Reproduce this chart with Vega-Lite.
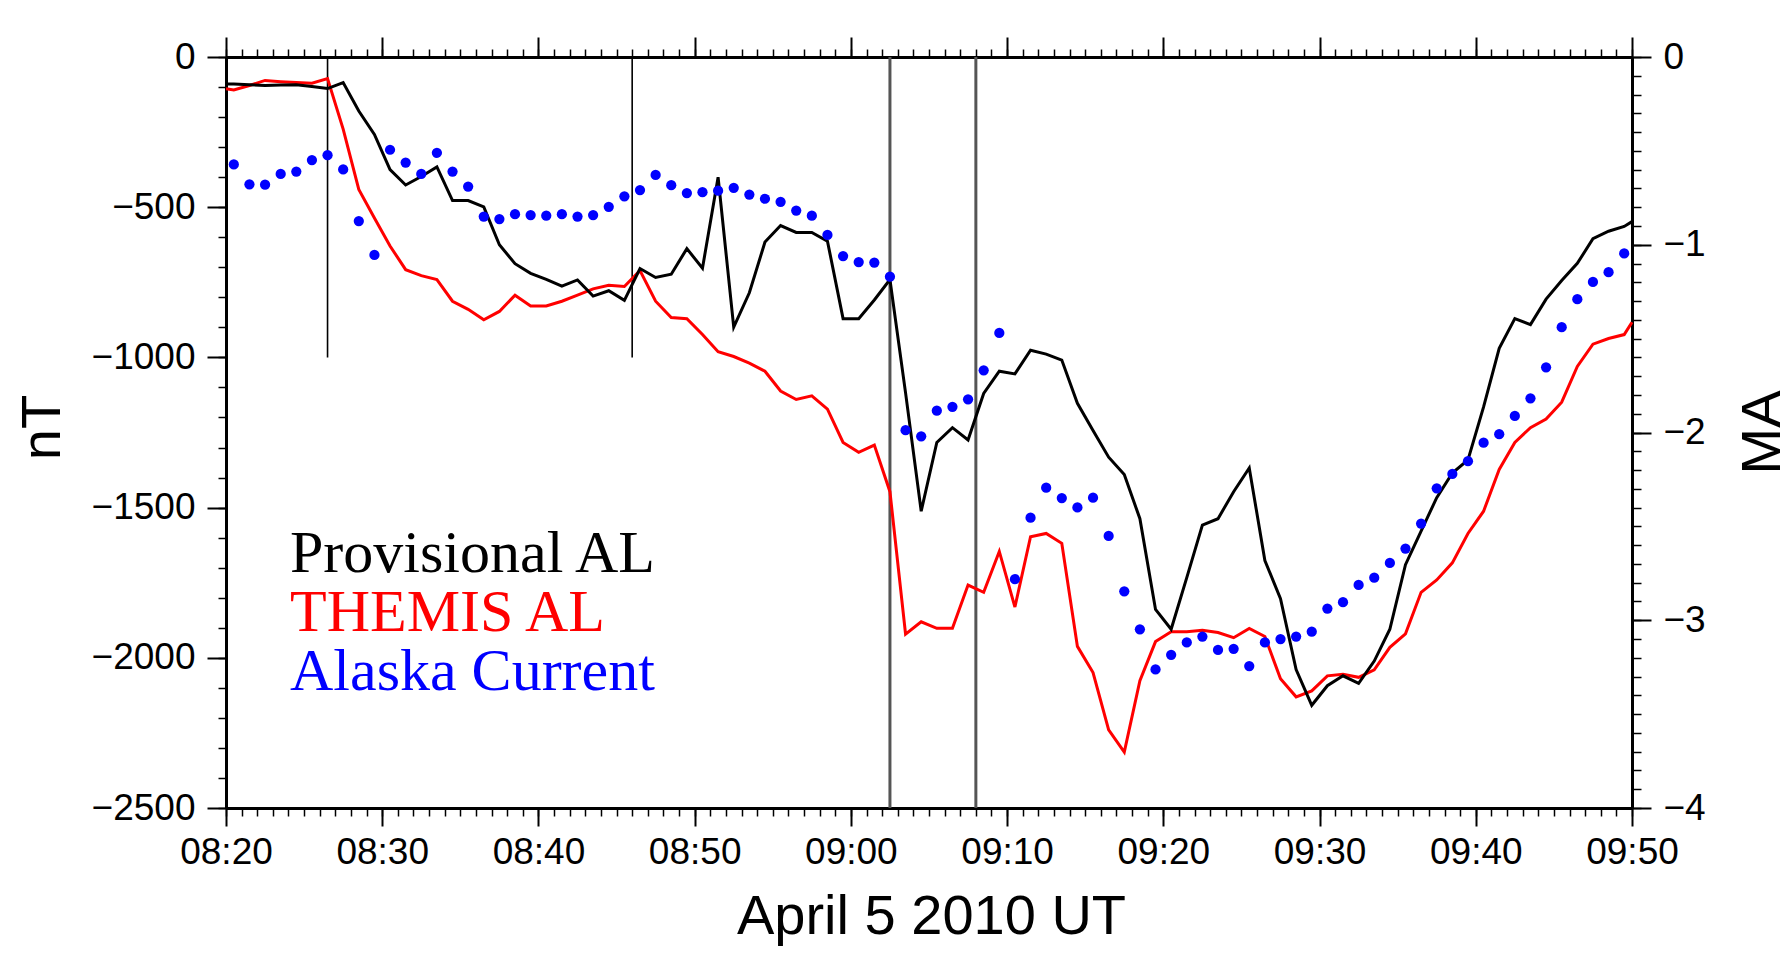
{
  "$schema": "https://vega.github.io/schema/vega-lite/v6.json",
  "width": 1406,
  "height": 751,
  "autosize": {"type": "none"},
  "padding": {"left": 226, "top": 57, "right": 160, "bottom": 167},
  "background": "white",
  "config": {
    "view": {"stroke": null},
    "font": "Liberation Sans",
    "axis": {
      "labelFont": "Liberation Sans",
      "titleFont": "Liberation Sans",
      "labelColor": "black",
      "titleColor": "black",
      "tickColor": "black",
      "domainColor": "black",
      "grid": false,
      "titleFontWeight": "normal",
      "labelFontSize": 37,
      "titleFontSize": 56,
      "labelFlush": false,
      "labelOverlap": false
    },
    "legend": {
      "orient": "none",
      "title": null,
      "padding": 0,
      "symbolSize": 0,
      "symbolOpacity": 0,
      "symbolStrokeWidth": 0,
      "labelOffset": 0,
      "labelFont": "Liberation Serif",
      "labelFontSize": 60,
      "labelLimit": 2000
    }
  },
  "datasets": {
    "al": [
      {"time": "2010-04-05T08:20:00Z", "provisional": -90, "themis": -106},
      {"time": "2010-04-05T08:20:30Z", "provisional": -90, "themis": -110},
      {"time": "2010-04-05T08:21:30Z", "provisional": -92, "themis": -95},
      {"time": "2010-04-05T08:22:30Z", "provisional": -95, "themis": -78},
      {"time": "2010-04-05T08:23:30Z", "provisional": -93, "themis": -82},
      {"time": "2010-04-05T08:24:30Z", "provisional": -92, "themis": -85},
      {"time": "2010-04-05T08:25:30Z", "provisional": -98, "themis": -87},
      {"time": "2010-04-05T08:26:30Z", "provisional": -105, "themis": -72},
      {"time": "2010-04-05T08:27:30Z", "provisional": -85, "themis": -240},
      {"time": "2010-04-05T08:28:30Z", "provisional": -180, "themis": -441},
      {"time": "2010-04-05T08:29:30Z", "provisional": -258, "themis": -536},
      {"time": "2010-04-05T08:30:30Z", "provisional": -375, "themis": -629},
      {"time": "2010-04-05T08:31:30Z", "provisional": -426, "themis": -708},
      {"time": "2010-04-05T08:32:30Z", "provisional": -398, "themis": -728},
      {"time": "2010-04-05T08:33:30Z", "provisional": -366, "themis": -741},
      {"time": "2010-04-05T08:34:30Z", "provisional": -478, "themis": -813},
      {"time": "2010-04-05T08:35:30Z", "provisional": -478, "themis": -840},
      {"time": "2010-04-05T08:36:30Z", "provisional": -499, "themis": -875},
      {"time": "2010-04-05T08:37:30Z", "provisional": -625, "themis": -847},
      {"time": "2010-04-05T08:38:30Z", "provisional": -688, "themis": -793},
      {"time": "2010-04-05T08:39:30Z", "provisional": -720, "themis": -829},
      {"time": "2010-04-05T08:40:30Z", "provisional": -740, "themis": -829},
      {"time": "2010-04-05T08:41:30Z", "provisional": -763, "themis": -813},
      {"time": "2010-04-05T08:42:30Z", "provisional": -742, "themis": -793},
      {"time": "2010-04-05T08:43:30Z", "provisional": -796, "themis": -772},
      {"time": "2010-04-05T08:44:30Z", "provisional": -778, "themis": -760},
      {"time": "2010-04-05T08:45:30Z", "provisional": -810, "themis": -764},
      {"time": "2010-04-05T08:46:30Z", "provisional": -704, "themis": -711},
      {"time": "2010-04-05T08:47:30Z", "provisional": -734, "themis": -813},
      {"time": "2010-04-05T08:48:30Z", "provisional": -723, "themis": -867},
      {"time": "2010-04-05T08:49:30Z", "provisional": -638, "themis": -871},
      {"time": "2010-04-05T08:50:30Z", "provisional": -703, "themis": -924},
      {"time": "2010-04-05T08:51:30Z", "provisional": -400, "themis": -981},
      {"time": "2010-04-05T08:52:30Z", "provisional": -899, "themis": -997},
      {"time": "2010-04-05T08:53:30Z", "provisional": -785, "themis": -1019},
      {"time": "2010-04-05T08:54:30Z", "provisional": -616, "themis": -1046},
      {"time": "2010-04-05T08:55:30Z", "provisional": -561, "themis": -1112},
      {"time": "2010-04-05T08:56:30Z", "provisional": -584, "themis": -1140},
      {"time": "2010-04-05T08:57:30Z", "provisional": -584, "themis": -1128},
      {"time": "2010-04-05T08:58:30Z", "provisional": -613, "themis": -1172},
      {"time": "2010-04-05T08:59:30Z", "provisional": -871, "themis": -1283},
      {"time": "2010-04-05T09:00:30Z", "provisional": -871, "themis": -1316},
      {"time": "2010-04-05T09:01:30Z", "provisional": -809, "themis": -1292},
      {"time": "2010-04-05T09:02:30Z", "provisional": -741, "themis": -1447},
      {"time": "2010-04-05T09:03:30Z", "provisional": -1118, "themis": -1921},
      {"time": "2010-04-05T09:04:30Z", "provisional": -1512, "themis": -1880},
      {"time": "2010-04-05T09:05:30Z", "provisional": -1283, "themis": -1902},
      {"time": "2010-04-05T09:06:30Z", "provisional": -1234, "themis": -1902},
      {"time": "2010-04-05T09:07:30Z", "provisional": -1275, "themis": -1758},
      {"time": "2010-04-05T09:08:30Z", "provisional": -1120, "themis": -1782},
      {"time": "2010-04-05T09:09:30Z", "provisional": -1046, "themis": -1646},
      {"time": "2010-04-05T09:10:30Z", "provisional": -1055, "themis": -1831},
      {"time": "2010-04-05T09:11:30Z", "provisional": -976, "themis": -1597},
      {"time": "2010-04-05T09:12:30Z", "provisional": -989, "themis": -1586},
      {"time": "2010-04-05T09:13:30Z", "provisional": -1009, "themis": -1619},
      {"time": "2010-04-05T09:14:30Z", "provisional": -1153, "themis": -1962},
      {"time": "2010-04-05T09:15:30Z", "provisional": -1243, "themis": -2049},
      {"time": "2010-04-05T09:16:30Z", "provisional": -1332, "themis": -2240},
      {"time": "2010-04-05T09:17:30Z", "provisional": -1390, "themis": -2314},
      {"time": "2010-04-05T09:18:30Z", "provisional": -1537, "themis": -2076},
      {"time": "2010-04-05T09:19:30Z", "provisional": -1839, "themis": -1946},
      {"time": "2010-04-05T09:20:30Z", "provisional": -1905, "themis": -1913},
      {"time": "2010-04-05T09:21:30Z", "provisional": -1733, "themis": -1913},
      {"time": "2010-04-05T09:22:30Z", "provisional": -1558, "themis": -1908},
      {"time": "2010-04-05T09:23:30Z", "provisional": -1537, "themis": -1916},
      {"time": "2010-04-05T09:24:30Z", "provisional": -1447, "themis": -1933},
      {"time": "2010-04-05T09:25:30Z", "provisional": -1368, "themis": -1902},
      {"time": "2010-04-05T09:26:30Z", "provisional": -1676, "themis": -1929},
      {"time": "2010-04-05T09:27:30Z", "provisional": -1803, "themis": -2070},
      {"time": "2010-04-05T09:28:30Z", "provisional": -2039, "themis": -2130},
      {"time": "2010-04-05T09:29:30Z", "provisional": -2158, "themis": -2110},
      {"time": "2010-04-05T09:30:30Z", "provisional": -2093, "themis": -2060},
      {"time": "2010-04-05T09:31:30Z", "provisional": -2060, "themis": -2055},
      {"time": "2010-04-05T09:32:30Z", "provisional": -2085, "themis": -2065},
      {"time": "2010-04-05T09:33:30Z", "provisional": -2011, "themis": -2040},
      {"time": "2010-04-05T09:34:30Z", "provisional": -1905, "themis": -1965},
      {"time": "2010-04-05T09:35:30Z", "provisional": -1690, "themis": -1920},
      {"time": "2010-04-05T09:36:30Z", "provisional": -1578, "themis": -1782},
      {"time": "2010-04-05T09:37:30Z", "provisional": -1467, "themis": -1741},
      {"time": "2010-04-05T09:38:30Z", "provisional": -1385, "themis": -1684},
      {"time": "2010-04-05T09:39:30Z", "provisional": -1341, "themis": -1586},
      {"time": "2010-04-05T09:40:30Z", "provisional": -1165, "themis": -1512},
      {"time": "2010-04-05T09:41:30Z", "provisional": -970, "themis": -1373},
      {"time": "2010-04-05T09:42:30Z", "provisional": -871, "themis": -1283},
      {"time": "2010-04-05T09:43:30Z", "provisional": -891, "themis": -1234},
      {"time": "2010-04-05T09:44:30Z", "provisional": -806, "themis": -1205},
      {"time": "2010-04-05T09:45:30Z", "provisional": -744, "themis": -1149},
      {"time": "2010-04-05T09:46:30Z", "provisional": -687, "themis": -1030},
      {"time": "2010-04-05T09:47:30Z", "provisional": -605, "themis": -956},
      {"time": "2010-04-05T09:48:30Z", "provisional": -580, "themis": -937},
      {"time": "2010-04-05T09:49:30Z", "provisional": -564, "themis": -924},
      {"time": "2010-04-05T09:50:00Z", "provisional": -548, "themis": -883}
    ],
    "alaska": [
      {"time": "2010-04-05T08:20:30Z", "current": -0.572},
      {"time": "2010-04-05T08:21:30Z", "current": -0.678},
      {"time": "2010-04-05T08:22:30Z", "current": -0.680},
      {"time": "2010-04-05T08:23:30Z", "current": -0.623},
      {"time": "2010-04-05T08:24:30Z", "current": -0.610},
      {"time": "2010-04-05T08:25:30Z", "current": -0.549},
      {"time": "2010-04-05T08:26:30Z", "current": -0.523},
      {"time": "2010-04-05T08:27:30Z", "current": -0.599},
      {"time": "2010-04-05T08:28:30Z", "current": -0.874},
      {"time": "2010-04-05T08:29:30Z", "current": -1.054},
      {"time": "2010-04-05T08:30:30Z", "current": -0.494},
      {"time": "2010-04-05T08:31:30Z", "current": -0.562},
      {"time": "2010-04-05T08:32:30Z", "current": -0.623},
      {"time": "2010-04-05T08:33:30Z", "current": -0.510},
      {"time": "2010-04-05T08:34:30Z", "current": -0.610},
      {"time": "2010-04-05T08:35:30Z", "current": -0.690},
      {"time": "2010-04-05T08:36:30Z", "current": -0.850},
      {"time": "2010-04-05T08:37:30Z", "current": -0.863},
      {"time": "2010-04-05T08:38:30Z", "current": -0.837},
      {"time": "2010-04-05T08:39:30Z", "current": -0.842},
      {"time": "2010-04-05T08:40:30Z", "current": -0.845},
      {"time": "2010-04-05T08:41:30Z", "current": -0.837},
      {"time": "2010-04-05T08:42:30Z", "current": -0.850},
      {"time": "2010-04-05T08:43:30Z", "current": -0.842},
      {"time": "2010-04-05T08:44:30Z", "current": -0.798},
      {"time": "2010-04-05T08:45:30Z", "current": -0.742},
      {"time": "2010-04-05T08:46:30Z", "current": -0.709},
      {"time": "2010-04-05T08:47:30Z", "current": -0.628},
      {"time": "2010-04-05T08:48:30Z", "current": -0.683},
      {"time": "2010-04-05T08:49:30Z", "current": -0.725},
      {"time": "2010-04-05T08:50:30Z", "current": -0.720},
      {"time": "2010-04-05T08:51:30Z", "current": -0.712},
      {"time": "2010-04-05T08:52:30Z", "current": -0.697},
      {"time": "2010-04-05T08:53:30Z", "current": -0.733},
      {"time": "2010-04-05T08:54:30Z", "current": -0.755},
      {"time": "2010-04-05T08:55:30Z", "current": -0.771},
      {"time": "2010-04-05T08:56:30Z", "current": -0.818},
      {"time": "2010-04-05T08:57:30Z", "current": -0.845},
      {"time": "2010-04-05T08:58:30Z", "current": -0.948},
      {"time": "2010-04-05T08:59:30Z", "current": -1.060},
      {"time": "2010-04-05T09:00:30Z", "current": -1.092},
      {"time": "2010-04-05T09:01:30Z", "current": -1.095},
      {"time": "2010-04-05T09:02:30Z", "current": -1.170},
      {"time": "2010-04-05T09:03:30Z", "current": -1.988},
      {"time": "2010-04-05T09:04:30Z", "current": -2.020},
      {"time": "2010-04-05T09:05:30Z", "current": -1.884},
      {"time": "2010-04-05T09:06:30Z", "current": -1.863},
      {"time": "2010-04-05T09:07:30Z", "current": -1.823},
      {"time": "2010-04-05T09:08:30Z", "current": -1.669},
      {"time": "2010-04-05T09:09:30Z", "current": -1.470},
      {"time": "2010-04-05T09:10:30Z", "current": -2.781},
      {"time": "2010-04-05T09:11:30Z", "current": -2.454},
      {"time": "2010-04-05T09:12:30Z", "current": -2.294},
      {"time": "2010-04-05T09:13:30Z", "current": -2.349},
      {"time": "2010-04-05T09:14:30Z", "current": -2.399},
      {"time": "2010-04-05T09:15:30Z", "current": -2.347},
      {"time": "2010-04-05T09:16:30Z", "current": -2.551},
      {"time": "2010-04-05T09:17:30Z", "current": -2.846},
      {"time": "2010-04-05T09:18:30Z", "current": -3.048},
      {"time": "2010-04-05T09:19:30Z", "current": -3.262},
      {"time": "2010-04-05T09:20:30Z", "current": -3.184},
      {"time": "2010-04-05T09:21:30Z", "current": -3.118},
      {"time": "2010-04-05T09:22:30Z", "current": -3.087},
      {"time": "2010-04-05T09:23:30Z", "current": -3.158},
      {"time": "2010-04-05T09:24:30Z", "current": -3.152},
      {"time": "2010-04-05T09:25:30Z", "current": -3.244},
      {"time": "2010-04-05T09:26:30Z", "current": -3.118},
      {"time": "2010-04-05T09:27:30Z", "current": -3.100},
      {"time": "2010-04-05T09:28:30Z", "current": -3.087},
      {"time": "2010-04-05T09:29:30Z", "current": -3.061},
      {"time": "2010-04-05T09:30:30Z", "current": -2.938},
      {"time": "2010-04-05T09:31:30Z", "current": -2.904},
      {"time": "2010-04-05T09:32:30Z", "current": -2.812},
      {"time": "2010-04-05T09:33:30Z", "current": -2.773},
      {"time": "2010-04-05T09:34:30Z", "current": -2.695},
      {"time": "2010-04-05T09:35:30Z", "current": -2.618},
      {"time": "2010-04-05T09:36:30Z", "current": -2.485},
      {"time": "2010-04-05T09:37:30Z", "current": -2.297},
      {"time": "2010-04-05T09:38:30Z", "current": -2.221},
      {"time": "2010-04-05T09:39:30Z", "current": -2.153},
      {"time": "2010-04-05T09:40:30Z", "current": -2.054},
      {"time": "2010-04-05T09:41:30Z", "current": -2.009},
      {"time": "2010-04-05T09:42:30Z", "current": -1.912},
      {"time": "2010-04-05T09:43:30Z", "current": -1.818},
      {"time": "2010-04-05T09:44:30Z", "current": -1.653},
      {"time": "2010-04-05T09:45:30Z", "current": -1.439},
      {"time": "2010-04-05T09:46:30Z", "current": -1.290},
      {"time": "2010-04-05T09:47:30Z", "current": -1.198},
      {"time": "2010-04-05T09:48:30Z", "current": -1.146},
      {"time": "2010-04-05T09:49:30Z", "current": -1.046}
    ],
    "events": [
      {"time": "2010-04-05T08:26:30Z", "top": 0, "bottom": -1000},
      {"time": "2010-04-05T08:46:00Z", "top": 0, "bottom": -1000},
      {"time": "2010-04-05T09:02:30Z", "top": 0, "bottom": -2500},
      {"time": "2010-04-05T09:08:00Z", "top": 0, "bottom": -2500}
    ]
  },
  "layer": [
    {
      "data": {"name": "events"},
      "mark": {"type": "rule"},
      "encoding": {
        "x": {
          "field": "time", "type": "temporal",
          "scale": {"type": "utc", "domain": [{"year": 2010, "month": 4, "date": 5, "hours": 8, "minutes": 20, "utc": true}, {"year": 2010, "month": 4, "date": 5, "hours": 9, "minutes": 50, "utc": true}]},
          "axis": {"orient": "top", "title": null, "labels": false, "domain": false, "ticks": true, "tickSize": 8, "tickWidth": 1.5, "tickCount": 90}
        },
        "y": {
          "field": "top", "type": "quantitative",
          "scale": {"domain": [-2500, 0], "nice": false, "zero": false},
          "axis": {"orient": "right", "title": null, "labels": false, "domain": false, "ticks": true, "tickSize": 9, "tickWidth": 1.5,
            "values": [0, -62.5, -125, -187.5, -250, -312.5, -375, -437.5, -500, -562.5, -625, -687.5, -750, -812.5, -875, -937.5, -1000, -1062.5, -1125, -1187.5, -1250, -1312.5, -1375, -1437.5, -1500, -1562.5, -1625, -1687.5, -1750, -1812.5, -1875, -1937.5, -2000, -2062.5, -2125, -2187.5, -2250, -2312.5, -2375, -2437.5, -2500]}
        },
        "y2": {"field": "bottom"},
        "color": {"condition": {"test": "datum.bottom < -1500", "value": "#555555"}, "value": "#000000"},
        "strokeWidth": {"condition": {"test": "datum.bottom < -1500", "value": 3}, "value": 1.6}
      }
    },
    {
      "data": {"name": "al"},
      "mark": {"type": "line", "strokeWidth": 3},
      "encoding": {
        "x": {
          "field": "time", "type": "temporal",
          "scale": {"type": "utc", "domain": [{"year": 2010, "month": 4, "date": 5, "hours": 8, "minutes": 20, "utc": true}, {"year": 2010, "month": 4, "date": 5, "hours": 9, "minutes": 50, "utc": true}]},
          "axis": {"orient": "bottom", "title": null, "labels": false, "domain": false, "ticks": true, "tickSize": 8, "tickWidth": 1.5, "tickCount": 90}
        },
        "y": {
          "field": "themis", "type": "quantitative",
          "scale": {"domain": [-2500, 0], "nice": false, "zero": false},
          "axis": {"orient": "left", "title": null, "labels": false, "domain": false, "ticks": true, "tickSize": 8, "tickWidth": 1.5,
            "values": [0, -100, -200, -300, -400, -500, -600, -700, -800, -900, -1000, -1100, -1200, -1300, -1400, -1500, -1600, -1700, -1800, -1900, -2000, -2100, -2200, -2300, -2400, -2500]}
        },
        "color": {
          "datum": "THEMIS AL", "type": "nominal",
          "scale": {"domain": ["THEMIS AL"], "range": ["#ff0000"]},
          "legend": {"legendX": 4, "legendY": 526, "labelColor": "#ff0000"}
        }
      }
    },
    {
      "data": {"name": "al"},
      "mark": {"type": "line", "strokeWidth": 3},
      "encoding": {
        "x": {
          "field": "time", "type": "temporal",
          "scale": {"type": "utc", "domain": [{"year": 2010, "month": 4, "date": 5, "hours": 8, "minutes": 20, "utc": true}, {"year": 2010, "month": 4, "date": 5, "hours": 9, "minutes": 50, "utc": true}]},
          "axis": {"orient": "bottom", "title": "April 5 2010 UT", "titleX": 705, "titleY": 125, "titleAlign": "center", "titleBaseline": "alphabetic", "format": "%H:%M", "domain": true, "domainWidth": 3, "ticks": true, "tickSize": 18, "tickWidth": 2, "labelPadding": 8,
            "values": [
              {"year": 2010, "month": 4, "date": 5, "hours": 8, "minutes": 20, "utc": true},
              {"year": 2010, "month": 4, "date": 5, "hours": 8, "minutes": 30, "utc": true},
              {"year": 2010, "month": 4, "date": 5, "hours": 8, "minutes": 40, "utc": true},
              {"year": 2010, "month": 4, "date": 5, "hours": 8, "minutes": 50, "utc": true},
              {"year": 2010, "month": 4, "date": 5, "hours": 9, "minutes": 0, "utc": true},
              {"year": 2010, "month": 4, "date": 5, "hours": 9, "minutes": 10, "utc": true},
              {"year": 2010, "month": 4, "date": 5, "hours": 9, "minutes": 20, "utc": true},
              {"year": 2010, "month": 4, "date": 5, "hours": 9, "minutes": 30, "utc": true},
              {"year": 2010, "month": 4, "date": 5, "hours": 9, "minutes": 40, "utc": true},
              {"year": 2010, "month": 4, "date": 5, "hours": 9, "minutes": 50, "utc": true}
            ]}
        },
        "y": {
          "field": "provisional", "type": "quantitative",
          "scale": {"domain": [-2500, 0], "nice": false, "zero": false},
          "axis": {"orient": "left", "title": "nT", "titleX": -167, "titleY": 370, "titleAngle": 270, "titleAlign": "center", "titleBaseline": "alphabetic", "format": "d", "domain": true, "domainWidth": 3, "ticks": true, "tickSize": 19, "tickWidth": 2, "labelPadding": 12,
            "values": [0, -500, -1000, -1500, -2000, -2500]}
        },
        "color": {
          "datum": "Provisional AL", "type": "nominal",
          "scale": {"domain": ["Provisional AL"], "range": ["#000000"]},
          "legend": {"legendX": 4, "legendY": 467, "labelColor": "#000000"}
        }
      }
    },
    {
      "data": {"name": "alaska"},
      "mark": {"type": "point", "filled": true, "size": 105, "opacity": 1, "strokeWidth": 0},
      "encoding": {
        "x": {
          "field": "time", "type": "temporal",
          "scale": {"type": "utc", "domain": [{"year": 2010, "month": 4, "date": 5, "hours": 8, "minutes": 20, "utc": true}, {"year": 2010, "month": 4, "date": 5, "hours": 9, "minutes": 50, "utc": true}]},
          "axis": {"orient": "top", "title": null, "labels": false, "domain": true, "domainWidth": 3, "ticks": true, "tickSize": 20, "tickWidth": 2,
            "values": [
              {"year": 2010, "month": 4, "date": 5, "hours": 8, "minutes": 20, "utc": true},
              {"year": 2010, "month": 4, "date": 5, "hours": 8, "minutes": 30, "utc": true},
              {"year": 2010, "month": 4, "date": 5, "hours": 8, "minutes": 40, "utc": true},
              {"year": 2010, "month": 4, "date": 5, "hours": 8, "minutes": 50, "utc": true},
              {"year": 2010, "month": 4, "date": 5, "hours": 9, "minutes": 0, "utc": true},
              {"year": 2010, "month": 4, "date": 5, "hours": 9, "minutes": 10, "utc": true},
              {"year": 2010, "month": 4, "date": 5, "hours": 9, "minutes": 20, "utc": true},
              {"year": 2010, "month": 4, "date": 5, "hours": 9, "minutes": 30, "utc": true},
              {"year": 2010, "month": 4, "date": 5, "hours": 9, "minutes": 40, "utc": true},
              {"year": 2010, "month": 4, "date": 5, "hours": 9, "minutes": 50, "utc": true}
            ]}
        },
        "y": {
          "field": "current", "type": "quantitative",
          "scale": {"domain": [-4, 0], "nice": false, "zero": false},
          "axis": {"orient": "right", "title": "MA", "titleX": 147, "titleY": 375, "titleAngle": 270, "titleAlign": "center", "titleBaseline": "alphabetic", "format": "d", "domain": true, "domainWidth": 3, "ticks": true, "tickSize": 19, "tickWidth": 2, "labelPadding": 12,
            "values": [0, -1, -2, -3, -4]}
        },
        "color": {
          "datum": "Alaska Current", "type": "nominal",
          "scale": {"domain": ["Alaska Current"], "range": ["#0000ff"]},
          "legend": {"legendX": 4, "legendY": 585, "labelColor": "#0000ff"}
        }
      }
    }
  ],
  "resolve": {
    "scale": {"y": "independent", "color": "independent"},
    "axis": {"x": "independent", "y": "independent"},
    "legend": {"color": "independent"}
  }
}
